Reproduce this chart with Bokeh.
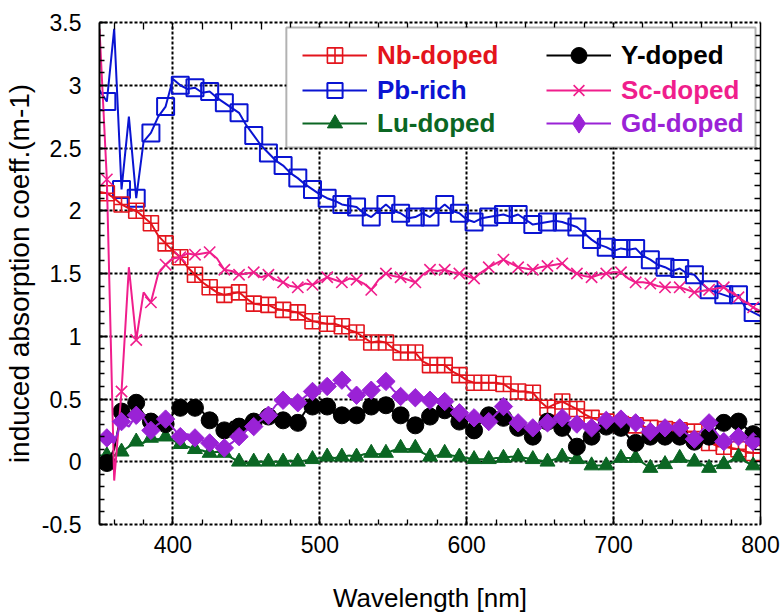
from bokeh.plotting import figure
from bokeh.models import (LinearAxis, SingleIntervalTicker, FixedTicker, Legend,
                          LegendItem, BoxAnnotation, Range1d)
from bokeh.embed import file_html
from bokeh.resources import INLINE
import math

# ---- data: induced absorption coefficient (m-1) sampled every 5 nm ----
wavelength = list(range(350, 805, 5))

nb_doped = [
    2.15, 2.14, 2.10, 2.05, 2.02, 2.00, 1.95, 1.90, 1.80, 1.74,
    1.68, 1.63, 1.55, 1.49, 1.43, 1.39, 1.35, 1.33, 1.34, 1.35,
    1.30, 1.26, 1.25, 1.25, 1.22, 1.21, 1.20, 1.19, 1.15, 1.12,
    1.11, 1.10, 1.10, 1.08, 1.05, 1.03, 0.99, 0.95, 0.96, 0.95,
    0.90, 0.87, 0.87, 0.87, 0.80, 0.77, 0.77, 0.77, 0.72, 0.69,
    0.65, 0.63, 0.63, 0.63, 0.63, 0.62, 0.58, 0.56, 0.56, 0.55,
    0.48, 0.43, 0.46, 0.48, 0.45, 0.42, 0.38, 0.35, 0.33, 0.32,
    0.31, 0.30, 0.30, 0.29, 0.28, 0.27, 0.26, 0.26, 0.25, 0.25,
    0.24, 0.24, 0.20, 0.15, 0.13, 0.12, 0.11, 0.10, 0.08, 0.07,
    0.07,
]

pb_rich = [
    2.96, 2.87, 3.45, 2.17, 2.75, 2.10, 2.55, 2.62, 2.75, 2.83,
    3.05, 3.00, 2.97, 2.98, 2.94, 2.95, 2.90, 2.86, 2.82, 2.78,
    2.68, 2.60, 2.52, 2.46, 2.40, 2.36, 2.30, 2.26, 2.21, 2.17,
    2.13, 2.10, 2.08, 2.05, 2.04, 2.03, 1.98, 1.95, 2.00, 2.05,
    2.00, 1.98, 1.94, 1.95, 1.98, 1.95, 2.00, 2.05, 2.00, 1.98,
    1.93, 1.91, 1.94, 1.95, 1.96, 1.97, 1.95, 1.97, 1.93, 1.89,
    1.90, 1.91, 1.92, 1.91, 1.89, 1.87, 1.82, 1.77, 1.73, 1.71,
    1.68, 1.70, 1.69, 1.70, 1.64, 1.61, 1.57, 1.55, 1.52, 1.54,
    1.50, 1.49, 1.42, 1.37, 1.35, 1.33, 1.31, 1.33, 1.22, 1.19,
    1.16,
]

lu_doped = [
    0.05, 0.05, 0.05, 0.08, 0.12, 0.16, 0.15, 0.19, 0.18, 0.20,
    0.17, 0.14, 0.12, 0.10, 0.09, 0.07, 0.08, 0.07, 0.03, 0.00,
    -0.01, 0.00, 0.00, 0.00, 0.00, 0.00, 0.01, 0.00, 0.01, 0.02,
    0.03, 0.04, 0.03, 0.04, 0.05, 0.04, 0.06, 0.07, 0.06, 0.07,
    0.09, 0.11, 0.10, 0.11, 0.07, 0.04, 0.05, 0.07, 0.05, 0.04,
    0.03, 0.02, 0.02, 0.02, 0.03, 0.03, 0.04, 0.04, 0.03, 0.02,
    0.01, 0.00, 0.02, 0.04, 0.03, 0.02, 0.00, -0.03, -0.03, -0.03,
    0.00, 0.03, 0.03, 0.03, -0.01, -0.05, -0.03, -0.02, 0.00, 0.03,
    0.01, 0.00, -0.02, -0.05, -0.03, -0.02, 0.01, 0.04, 0.00, -0.03,
    -0.03,
]

y_doped = [
    -0.05, -0.01, 0.10, 0.40, 0.35, 0.47, 0.38, 0.32, 0.35, 0.30,
    0.38, 0.43, 0.45, 0.43, 0.40, 0.33, 0.30, 0.25, 0.32, 0.28,
    0.30, 0.32, 0.38, 0.36, 0.33, 0.33, 0.32, 0.31, 0.40, 0.44,
    0.44, 0.44, 0.38, 0.37, 0.38, 0.37, 0.40, 0.44, 0.43, 0.45,
    0.40, 0.37, 0.33, 0.29, 0.33, 0.36, 0.38, 0.41, 0.36, 0.32,
    0.28, 0.25, 0.32, 0.37, 0.36, 0.35, 0.30, 0.27, 0.24, 0.20,
    0.28, 0.32, 0.29, 0.27, 0.20, 0.12, 0.17, 0.20, 0.25, 0.28,
    0.28, 0.27, 0.20, 0.15, 0.18, 0.20, 0.20, 0.20, 0.20, 0.20,
    0.18, 0.16, 0.18, 0.20, 0.27, 0.31, 0.32, 0.32, 0.27, 0.22,
    0.20,
]

sc_doped = [
    3.45, 2.25, -0.15, 0.56, 1.55, 0.97, 1.35, 1.27, 1.50, 1.57,
    1.62, 1.63, 1.66, 1.65, 1.66, 1.67, 1.62, 1.53, 1.52, 1.49,
    1.50, 1.51, 1.47, 1.49, 1.45, 1.43, 1.40, 1.39, 1.42, 1.41,
    1.44, 1.47, 1.45, 1.43, 1.46, 1.45, 1.42, 1.37, 1.45, 1.50,
    1.48, 1.47, 1.45, 1.43, 1.49, 1.53, 1.52, 1.53, 1.51, 1.50,
    1.48, 1.46, 1.51, 1.55, 1.58, 1.61, 1.58, 1.55, 1.54, 1.53,
    1.55, 1.56, 1.57, 1.58, 1.53, 1.50, 1.48, 1.47, 1.49, 1.50,
    1.51, 1.51, 1.46, 1.43, 1.43, 1.42, 1.40, 1.39, 1.39, 1.39,
    1.37, 1.35, 1.36, 1.37, 1.38, 1.39, 1.35, 1.31, 1.27, 1.23,
    1.20,
]

gd_doped = [
    0.17, 0.19, 0.15, 0.32, 0.28, 0.37, 0.35, 0.25, 0.30, 0.34,
    0.27, 0.20, 0.22, 0.19, 0.17, 0.15, 0.13, 0.11, 0.15, 0.20,
    0.25, 0.28, 0.33, 0.37, 0.45, 0.49, 0.48, 0.47, 0.52, 0.56,
    0.58, 0.60, 0.62, 0.65, 0.58, 0.53, 0.55, 0.57, 0.60, 0.64,
    0.57, 0.52, 0.52, 0.51, 0.50, 0.49, 0.50, 0.48, 0.43, 0.39,
    0.37, 0.35, 0.33, 0.32, 0.38, 0.44, 0.37, 0.31, 0.29, 0.27,
    0.29, 0.31, 0.33, 0.35, 0.32, 0.30, 0.28, 0.27, 0.30, 0.33,
    0.34, 0.34, 0.32, 0.31, 0.27, 0.24, 0.26, 0.27, 0.27, 0.27,
    0.22, 0.18, 0.25, 0.31, 0.23, 0.16, 0.18, 0.20, 0.18, 0.16,
    0.15,
]

y_ticks = [-0.5, 0.0, 0.5, 1.0, 1.5, 2.0, 2.5, 3.0, 3.5]
y_tick_labels = ["-0.5", "0", "0.5", "1", "1.5", "2", "2.5", "3", "3.5"]

FONT = "Liberation Sans"

p = figure(width=782, height=615,
           x_range=Range1d(350, 800), y_range=Range1d(-0.5, 3.5),
           output_backend="svg", toolbar_location=None,
           min_border_left=95, min_border_right=22,
           min_border_top=22, min_border_bottom=91,
           x_axis_label="Wavelength [nm]",
           y_axis_label="induced absorption coeff.(m-1)")
p.background_fill_color = "white"
p.border_fill_color = "white"
p.outline_line_color = None

x_ticker = SingleIntervalTicker(interval=100, num_minor_ticks=5)
y_ticker = SingleIntervalTicker(interval=0.5, num_minor_ticks=5)

# top and right edges carry tick marks only (every 20 nm / every 0.1), no labels
top_ticker = FixedTicker(ticks=[], minor_ticks=list(range(360, 800, 20)))
right_ticker = FixedTicker(ticks=[],
                           minor_ticks=[round(-0.5 + 0.1 * k, 1) for k in range(1, 40)])
top_axis = LinearAxis(ticker=top_ticker)
right_axis = LinearAxis(ticker=right_ticker)
p.add_layout(top_axis, "above")
p.add_layout(right_axis, "right")

bottom_axis = p.below[0]
left_axis = p.left[0]
bottom_axis.ticker = x_ticker
left_axis.ticker = y_ticker
left_axis.major_label_overrides = dict(zip(y_ticks, y_tick_labels))

for ax in (bottom_axis, left_axis, top_axis, right_axis):
    ax.major_tick_in = 8
    ax.major_tick_out = 0
    ax.minor_tick_in = 5
    ax.minor_tick_out = 0
    ax.major_tick_line_color = "black"
    ax.minor_tick_line_color = "black"
    ax.major_tick_line_width = 1.5
    ax.minor_tick_line_width = 1.3
    ax.axis_line_color = "black"
    ax.major_label_text_color = "black"
    ax.major_label_text_font = FONT
    ax.axis_label_text_font = FONT
    ax.axis_label_text_font_style = "normal"
    ax.axis_label_text_color = "black"

top_axis.minor_tick_in = 7
right_axis.minor_tick_in = 6
top_axis.major_label_standoff = 0
right_axis.major_label_standoff = 0

left_axis.axis_line_width = 2
right_axis.axis_line_width = 1.5
for ax in (bottom_axis, top_axis):
    ax.axis_line_width = 2
    ax.axis_line_dash = "3 2"

bottom_axis.major_label_text_font_size = "23px"
bottom_axis.major_label_standoff = 11
bottom_axis.axis_label_text_font_size = "26px"
bottom_axis.axis_label_standoff = 27

left_axis.major_label_text_font_size = "23px"
left_axis.major_label_standoff = 18
left_axis.axis_label_text_font_size = "28px"
left_axis.axis_label_standoff = 4

for g, t in ((p.xgrid, x_ticker), (p.ygrid, y_ticker)):
    g.ticker = t
    g.grid_line_color = "black"
    g.grid_line_dash = "3 2"
    g.grid_line_width = 2

# ---- series: line through every sample, marker on every other sample ----
series = [
    ("Pb-rich", pb_rich, "#0a14d2",
     dict(marker="square", size=17, fill_color=None, line_width=2)),
    ("Nb-doped", nb_doped, "#e3141c",
     dict(marker="square_cross", size=15, fill_color=None, line_width=1.6)),
    ("Lu-doped", lu_doped, "#0b6623",
     dict(marker="triangle", size=15, line_width=1)),
    ("Y-doped", y_doped, "#000000",
     dict(marker="circle", size=17, line_width=1)),
    ("Sc-doped", sc_doped, "#f01e8c",
     dict(marker="x", size=16, line_width=1.6)),
    ("Gd-doped", gd_doped, "#9a22d6",
     dict(marker="square", angle=math.pi / 4, size=13, line_width=1)),
]

renderers = {}
for name, vals, color, mk in series:
    ln = p.line(wavelength, vals, line_color=color, line_width=2)
    opts = dict(mk)
    if opts.get("fill_color", "x") is not None:
        opts["fill_color"] = color
    sc = p.scatter(wavelength[1::2], vals[1::2], line_color=color, **opts)
    renderers[name] = [ln, sc]

# the Gd-doped key shows a diamond symbol (legend glyphs are drawn unrotated);
# this renderer only feeds the legend and is not shown in the plot area
gd_key = p.scatter(wavelength[:1], gd_doped[:1], marker="diamond",
                   fill_color="#9a22d6", line_color="#9a22d6", visible=False)
renderers["Gd-doped"] = [renderers["Gd-doped"][0], gd_key]

colors = {name: color for name, _, color, _ in series}

# ---- legend: white framed box with two columns of coloured entries ----
legend_box = BoxAnnotation(left=477.2, right=796.6, top=3.46, bottom=2.504,
                           fill_color="white", fill_alpha=1.0,
                           line_color="black", line_width=2)
p.add_layout(legend_box)

# (name, key height, location relative to the frame's lower-left corner)
legend_layout = [
    ("Nb-doped", 38, (203, 450)), ("Pb-rich", 38, (203, 415)),
    ("Lu-doped", 38, (203, 382)), ("Y-doped", 40, (447, 449)),
    ("Sc-doped", 38, (447, 415)), ("Gd-doped", 48, (447, 377)),
]
for name, gh, loc in legend_layout:
    leg = Legend(items=[LegendItem(label=name, renderers=renderers[name])],
                 location=loc, orientation="vertical",
                 glyph_width=65, glyph_height=gh, label_height=gh,
                 label_standoff=10, padding=0, margin=0, spacing=0,
                 background_fill_alpha=0, border_line_color=None,
                 inactive_fill_alpha=0,
                 label_text_font=FONT, label_text_font_size="26px",
                 label_text_font_style="bold", label_text_color=colors[name])
    p.add_layout(leg)

open("out.html", "w").write(file_html(p, INLINE))
